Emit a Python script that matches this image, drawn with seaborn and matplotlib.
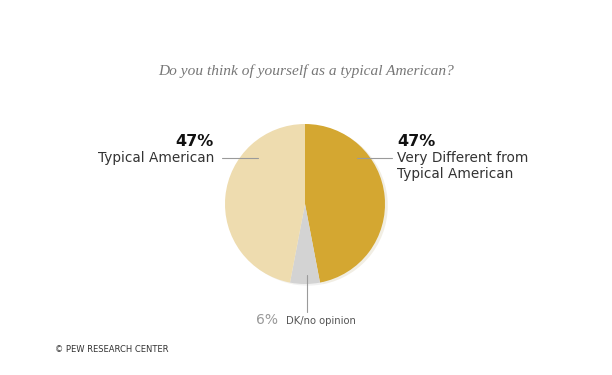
import matplotlib
matplotlib.use("Agg")
import matplotlib.pyplot as plt
import seaborn as sns

# Data
labels = ["Very Different from\nTypical American", "DK/no opinion", "Typical American"]
values = [47, 6, 47]
colors = ["#D4A731", "#D3D3D3", "#EEDCAF"]

title = "Do you think of yourself as a typical American?"
source = "\u00a9 PEW RESEARCH CENTER"

sns.set_style("white")
plt.rcParams['font.family'] = ['DejaVu Sans']

W, H = 612, 375
fig = plt.figure(figsize=(W / 100, H / 100), dpi=100)
fig.patch.set_facecolor("white")


def fx(px):
    return px / W


def fy(py):
    return 1 - py / H


# pie: centre (305, 204) px, radius 80 px
cx, cy, r = 305, 204, 80
ax = fig.add_axes([fx(cx - r), fy(cy + r), 2 * r / W, 2 * r / H])
ax.pie(values, colors=sns.color_palette(colors), startangle=90, counterclock=False,
       radius=1, wedgeprops=dict(linewidth=0),
       shadow=dict(ox=0.025, oy=-0.015, shade=0.3, alpha=0.12))
ax.set_xlim(-1, 1)
ax.set_ylim(-1, 1)
ax.set_aspect("equal")
ax.axis("off")

# leader lines (axes data coords)
line_kw = dict(color="#9a9a9a", lw=0.8, clip_on=False)
ax.plot([-1.04, -0.59], [0.575, 0.575], **line_kw)
ax.plot([0.65, 1.09], [0.575, 0.575], **line_kw)
ax.plot([0.02, 0.02], [-0.89, -1.35], **line_kw)

# title
fig.text(fx(306), fy(75), title, ha="center", va="baseline", fontsize=11.1,
         style="italic", family="Liberation Serif", color="#777777")

# left label
fig.text(fx(214), fy(146), f"{values[2]}%", ha="right", va="baseline",
         fontsize=11.5, fontweight="bold", color="#111111")
fig.text(fx(214), fy(162), labels[2], ha="right", va="baseline",
         fontsize=9.8, color="#333333")

# right label
fig.text(fx(397), fy(146), f"{values[0]}%", ha="left", va="baseline",
         fontsize=11.5, fontweight="bold", color="#111111")
fig.text(fx(397), fy(162), labels[0].split("\n")[0], ha="left", va="baseline",
         fontsize=9.8, color="#333333")
fig.text(fx(397), fy(178), labels[0].split("\n")[1], ha="left", va="baseline",
         fontsize=9.8, color="#333333")

# bottom label
fig.text(fx(278), fy(324), f"{values[1]}%", ha="right", va="baseline",
         fontsize=10, color="#999999")
fig.text(fx(286), fy(324), labels[1], ha="left", va="baseline",
         fontsize=7.2, color="#555555")

# source
fig.text(fx(55), fy(352), source, ha="left", va="baseline",
         fontsize=6, color="#333333")

fig.savefig("out.png", dpi=100, facecolor="white")
